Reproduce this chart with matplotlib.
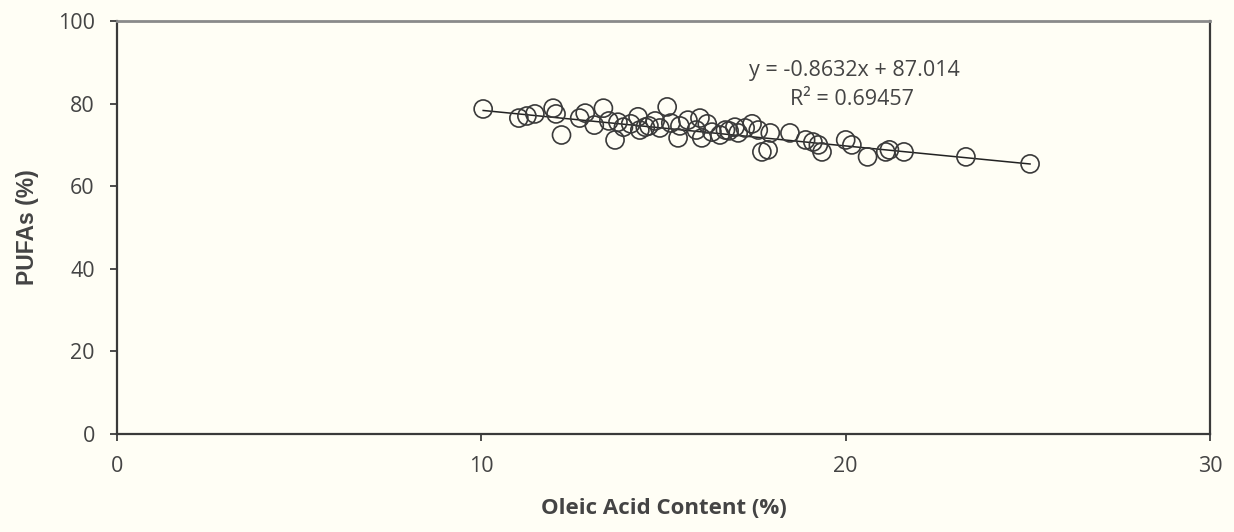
import numpy as np
import matplotlib.pyplot as plt

# Oleic acid content (%) and PUFA content (%) per sample
oleic = [10.05, 11.03, 11.25, 11.47, 11.97, 12.05, 12.2, 12.7, 12.85, 13.1,
         13.35, 13.5, 13.67, 13.75, 13.9, 14.1, 14.3, 14.35, 14.5, 14.6,
         14.77, 14.9, 15.1, 15.2, 15.4, 15.45, 15.67, 15.9, 16.0, 16.05,
         16.2, 16.33, 16.55, 16.7, 16.8, 16.96, 17.05, 17.24, 17.43, 17.6,
         17.7, 17.87, 17.93, 18.47, 18.9, 19.1, 19.25, 19.35, 20.0, 20.17,
         20.6, 21.1, 21.2, 21.6, 23.3, 25.06]
pufa = [78.7, 76.5, 77.0, 77.5, 78.9, 77.5, 72.4, 76.5, 77.7, 74.8,
        78.9, 75.8, 71.2, 75.5, 74.3, 75.1, 76.8, 73.6, 74.3, 74.6,
        75.8, 74.1, 79.2, 75.3, 71.7, 74.6, 76.0, 73.6, 76.5, 71.7,
        75.1, 73.1, 72.4, 73.6, 73.4, 74.3, 72.9, 74.1, 75.1, 73.6,
        68.3, 68.8, 72.9, 72.9, 71.2, 70.7, 70.0, 68.3, 71.2, 70.0,
        67.1, 68.3, 68.8, 68.3, 67.1, 65.4]

# Linear trendline coefficients
slope = -0.8632
intercept = 87.014
r_squared = 0.69457

bg = '#fffef5'
ink = '#2e2e2e'
txt = '#444444'

fig = plt.figure(figsize=(12.34, 5.32), dpi=100, facecolor=bg)
ax = fig.add_axes([0.0948, 0.1842, 0.8858, 0.7763], facecolor=bg)

ax.scatter(oleic, pufa, s=13 ** 2, facecolors='none', edgecolors='#3a3a3a',
           linewidths=1.2, zorder=3)

xl = np.array([min(oleic), max(oleic)])
ax.plot(xl, slope * xl + intercept, color='#222222', lw=1.1, zorder=2)

# trendline equation and fit quality
ax.text(20.24, 88.1, f'y = {slope:.4f}x + {intercept:.3f}',
        ha='center', va='center', fontsize=15.5, color=txt,
        family='Open Sans')
ax.text(20.18, 80.9, f'R\u00b2 = {r_squared:.5f}',
        ha='center', va='center', fontsize=15.5, color=txt,
        family='Open Sans')

ax.set_xlim(0, 30)
ax.set_ylim(0, 100)
ax.set_xticks([0, 10, 20, 30])
ax.set_yticks([0, 20, 40, 60, 80, 100])
ax.tick_params(direction='out', length=5, width=1.2, colors=ink,
               labelsize=15.5, pad=11)
for lab in ax.get_xticklabels() + ax.get_yticklabels():
    lab.set_family('Open Sans')
    lab.set_color(txt)

for side in ['left', 'bottom', 'right']:
    ax.spines[side].set_color('#3a3a3a')
    ax.spines[side].set_linewidth(1.6)
ax.spines['top'].set_color('#8a8a8a')
ax.spines['top'].set_linewidth(2.0)

ax.set_xlabel('Oleic Acid Content (%)', fontsize=16, fontweight='bold',
              color=txt, family='Open Sans')
ax.set_ylabel('PUFAs (%)', fontsize=16.5, fontweight='bold',
              color=txt, family='Liberation Sans')
ax.xaxis.set_label_coords(547 / 1093, -64 / 413)
ax.yaxis.set_label_coords(-78 / 1093, 0.5)

plt.savefig('out.png', dpi=100, facecolor=bg)
plt.close()
